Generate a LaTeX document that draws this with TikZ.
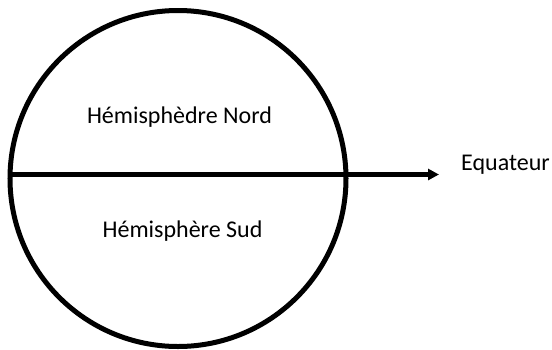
\documentclass[tikz,border=0pt]{standalone}
\usepackage{fontspec}
\setmainfont{Carlito}
\usetikzlibrary{arrows.meta}
\begin{document}
\begin{tikzpicture}[x=1pt,y=-1pt,
  lbl/.style={inner sep=0pt,font=\fontsize{24}{28}\selectfont},
  globe/.style={circle,draw=black,line width=5pt,minimum size=336pt,inner sep=0pt},
  eqline/.style={line width=4.2pt,-{Triangle[length=11pt,width=11pt]}}]
\useasboundingbox (0,0) rectangle (552,349);
\node[globe] (globe) at (178,178.5) {};
\coordinate (eqL) at (9,174.5);
\coordinate (eqR) at (439,174.5);
\draw[eqline] (eqL) -- (eqR);
\node[lbl,anchor=base] (nord) at (179.5,123) {Hémisphèdre Nord};
\node[lbl,anchor=base] (sud) at (182.5,237) {Hémisphère Sud};
\node[lbl,anchor=base west] (eq) at (461,170) {Equateur};
\end{tikzpicture}
\end{document}
